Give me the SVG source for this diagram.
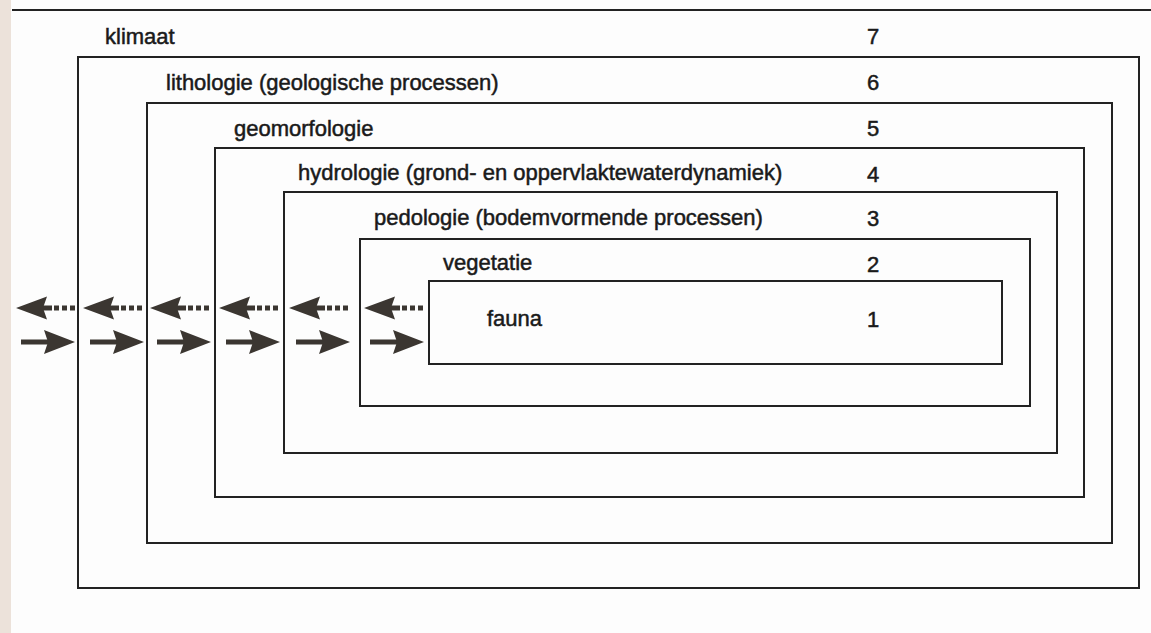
<svg xmlns="http://www.w3.org/2000/svg" xmlns:xlink="http://www.w3.org/1999/xlink" width="1151" height="633" viewBox="0 0 1151 633">
<style>
.box{fill:none;stroke:#222;stroke-width:2}
.lbl{font-family:"Liberation Sans",Arial,sans-serif;font-size:22px;fill:#1a1a1a;stroke:#1a1a1a;stroke-width:0.5}
.num{font-family:"Liberation Sans",Arial,sans-serif;font-size:22px;fill:#1a1a1a;stroke:#1a1a1a;stroke-width:0.5;text-anchor:middle}
.arr{fill:#3b3631}
</style>
<defs>
<g id="back">
<polygon class="arr" points="0,0 31,-11.5 27,0 31,11.5"/>
<rect class="arr" x="25" y="-2.5" width="11" height="5"/>
<rect class="arr" x="38" y="-2.5" width="5" height="5"/>
<rect class="arr" x="46" y="-2.5" width="5" height="5"/>
<rect class="arr" x="54" y="-2.5" width="5" height="5"/>
</g>
<g id="fwd">
<rect class="arr" x="-54" y="-2.5" width="30" height="5"/>
<polygon class="arr" points="0,0 -31,-12 -27,0 -31,12"/>
</g>
</defs>
<rect x="0" y="0" width="1151" height="633" fill="#fdfdfd"/>
<rect x="0" y="0" width="11" height="633" fill="#ece2da"/>
<line x1="12" y1="10" x2="1151" y2="10" stroke="#222" stroke-width="2"/>
<g id="n7-klimaat">
<text class="lbl" x="105" y="44">klimaat</text>
<text class="num" x="873" y="44">7</text>
</g>
<g id="n6-lithologie">
<rect class="box" x="78" y="57" width="1061" height="531"/>
<text class="lbl" x="166" y="90">lithologie (geologische processen)</text>
<text class="num" x="873" y="90">6</text>
</g>
<g id="n5-geomorfologie">
<rect class="box" x="147" y="103" width="965" height="440"/>
<text class="lbl" x="234" y="136">geomorfologie</text>
<text class="num" x="873" y="136">5</text>
</g>
<g id="n4-hydrologie">
<rect class="box" x="215" y="148" width="869" height="349"/>
<text class="lbl" x="298" y="180">hydrologie (grond- en oppervlaktewaterdynamiek)</text>
<text class="num" x="873" y="182">4</text>
</g>
<g id="n3-pedologie">
<rect class="box" x="284" y="192" width="773" height="261"/>
<text class="lbl" x="374" y="225">pedologie (bodemvormende processen)</text>
<text class="num" x="873" y="226">3</text>
</g>
<g id="n2-vegetatie">
<rect class="box" x="360" y="239" width="670" height="167"/>
<text class="lbl" x="443" y="270">vegetatie</text>
<text class="num" x="873" y="272">2</text>
</g>
<g id="n1-fauna">
<rect class="box" x="429" y="281" width="573" height="83"/>
<text class="lbl" x="487" y="326">fauna</text>
<text class="num" x="873" y="327">1</text>
</g>
<g id="connectors">
<use xlink:href="#back" x="16" y="308"/>
<use xlink:href="#fwd" x="75" y="342"/>
<use xlink:href="#back" x="83" y="308"/>
<use xlink:href="#fwd" x="144" y="342"/>
<use xlink:href="#back" x="150" y="308"/>
<use xlink:href="#fwd" x="211" y="342"/>
<use xlink:href="#back" x="219" y="308"/>
<use xlink:href="#fwd" x="280" y="342"/>
<use xlink:href="#back" x="289" y="308"/>
<use xlink:href="#fwd" x="350" y="342"/>
<use xlink:href="#back" x="364" y="308"/>
<use xlink:href="#fwd" x="424" y="342"/>
</g>
</svg>
